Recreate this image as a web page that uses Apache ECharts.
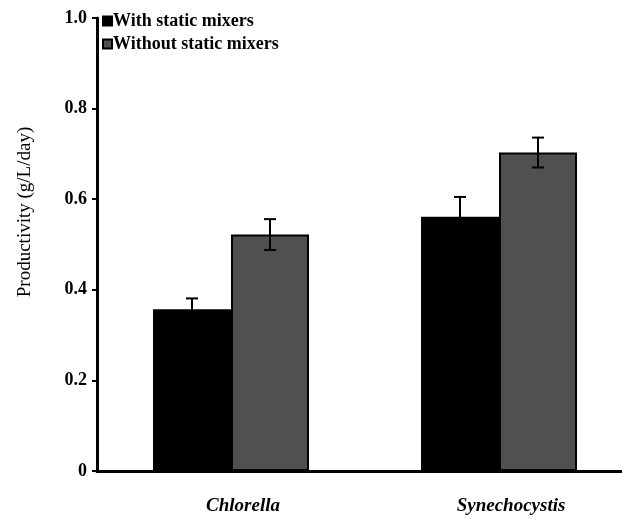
<!DOCTYPE html>
<html><head><meta charset="utf-8">
<script src="https://cdn.jsdelivr.net/npm/echarts@6/dist/echarts.min.js"></script>
<style>html,body{margin:0;padding:0;background:#fff;overflow:hidden}#c{width:640px;height:519px}</style>
</head><body><div id="c"></div>
<script>
var categories = ['Chlorella', 'Synechocystis'];
var seriesNames = ['With static mixers', 'Without static mixers'];
var withMixers = [0.357, 0.561];
var withoutMixers = [0.522, 0.703];
var withErr = [0.024, 0.044];
var withoutErr = [0.034, 0.033];
var yTicks = [0, 0.2, 0.4, 0.6, 0.8, 1.0];
var yName = 'Productivity (g/L/day)';

var BAR_W = 78;
var font = '"Liberation Serif", "Times New Roman", serif';

function errSeries(vals, errs, offset) {
  return {
    type: 'custom',
    z: 5,
    silent: true,
    data: vals.map(function (v, i) { return [i, v - errs[i], v + errs[i]]; }),
    renderItem: function (params, api) {
      var i = api.value(0);
      var lo = api.coord([i, api.value(1)]);
      var hi = api.coord([i, api.value(2)]);
      var x = lo[0] + offset;
      var cap = 6;
      var st = { stroke: '#000', lineWidth: 2 };
      return {
        type: 'group',
        children: [
          { type: 'line', shape: { x1: x, y1: lo[1], x2: x, y2: hi[1] }, style: st },
          { type: 'line', shape: { x1: x - cap, y1: hi[1], x2: x + cap, y2: hi[1] }, style: st },
          { type: 'line', shape: { x1: x - cap, y1: lo[1], x2: x + cap, y2: lo[1] }, style: st }
        ]
      };
    }
  };
}

var chart = echarts.init(document.getElementById('c'));
chart.setOption({
  animation: false,
  textStyle: { fontFamily: font },
  legend: {
    orient: 'vertical',
    left: 97, top: 7,
    icon: 'rect',
    itemWidth: 9, itemHeight: 9, itemGap: 5,
    data: seriesNames,
    textStyle: { fontFamily: font, fontWeight: 'bold', fontSize: 18, lineHeight: 18, color: '#000', padding: [0, 0, 0, -4] }
  },
  graphic: [{
    type: 'text',
    x: 25, y: 212, rotation: Math.PI / 2,
    style: { text: yName, font: '19px ' + font, fill: '#000', align: 'center', verticalAlign: 'middle' }
  }],
  grid: { left: 97, top: 18, right: 7, bottom: 48, containLabel: false },
  xAxis: {
    type: 'category',
    data: categories,
    axisLine: { lineStyle: { color: '#000', width: 3 } },
    axisTick: { show: false },
    axisLabel: { fontFamily: font, fontStyle: 'italic', fontWeight: 'bold', fontSize: 19, color: '#000', margin: 26, padding: [0, 0, 0, 24] }
  },
  yAxis: {
    type: 'value',
    min: 0, max: 1.0, interval: 0.2,
    axisLine: { show: true, lineStyle: { color: '#000', width: 3 } },
    axisTick: { show: true, length: 5, lineStyle: { color: '#000', width: 2 } },
    splitLine: { show: false },
    axisLabel: {
      fontFamily: font, fontWeight: 'bold', fontSize: 18, color: '#000', margin: 10,
      formatter: function (v) { return v === 0 ? '0' : v.toFixed(1); }
    }
  },
  series: [
    { name: seriesNames[0], type: 'bar', data: withMixers, barWidth: BAR_W, barGap: '0%',
      itemStyle: { color: '#000', borderColor: '#000', borderWidth: 1.5 } },
    { name: seriesNames[1], type: 'bar', data: withoutMixers, barWidth: BAR_W, barGap: '0%',
      itemStyle: { color: '#505050', borderColor: '#000', borderWidth: 2 } },
    errSeries(withMixers, withErr, -BAR_W / 2),
    errSeries(withoutMixers, withoutErr, BAR_W / 2)
  ]
});
</script></body></html>
